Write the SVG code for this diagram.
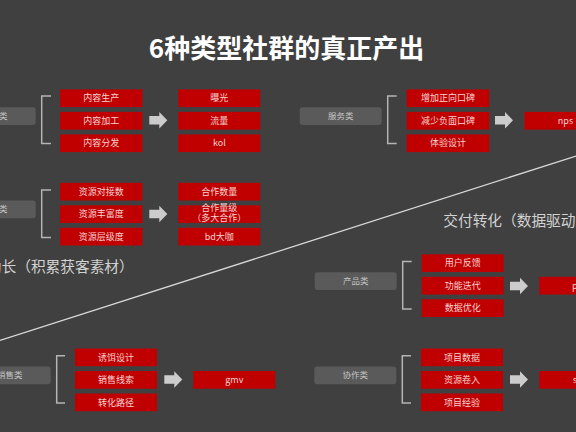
<svg xmlns="http://www.w3.org/2000/svg" width="576" height="432" viewBox="0 0 576 432">
<style>
text{font-family:"Noto Sans CJK SC","Liberation Sans",sans-serif}
.lb{fill:#5a5a5a}
.lt{fill:#c4c4c4;font-size:8.5px;text-anchor:middle}
.rd{fill:#c00000}
.rt{fill:#f6d2d2;font-size:9px;text-anchor:middle}
.br{fill:none;stroke:#b4b4b4;stroke-width:1.5}
.arr{fill:#cccccc}
.big{fill:#d2d2d2;font-size:14.7px}
</style>
<defs><path id="ar" d="M0,-4.3H10V-8.3L18,0L10,8.3V4.3H0Z"/></defs>
<rect width="576" height="432" fill="#404040"/>
<text x="286.5" y="58" fill="#ffffff" font-size="26" font-weight="bold" text-anchor="middle">6种类型社群的真正产出</text>
<text class="big" x="-13.2" y="272">助长（积累获客素材）</text>
<text class="big" x="443.3" y="226">交付转化（数据驱动</text>

<g id="connectors">
<line x1="0" y1="340.5" x2="576" y2="156" stroke="#d8d8d8" stroke-width="1.3"/>
<path class="br" d="M51,96H41.7V143.4H51"/>
<path class="br" d="M396.7,96H387.7V143.4H396.7"/>
<path class="br" d="M51,190H41.7V237.5H51"/>
<path class="br" d="M411.7,261.5H402.7V309H411.7"/>
<path class="br" d="M65,355.7H56.7V403H65"/>
<path class="br" d="M411,355.7H402.3V403H411"/>
<use href="#ar" class="arr" transform="translate(149.3,120.3)"/>
<use href="#ar" class="arr" transform="translate(495,120.3)"/>
<use href="#ar" class="arr" transform="translate(149.3,214)"/>
<use href="#ar" class="arr" transform="translate(510,286)"/>
<use href="#ar" class="arr" transform="translate(164.3,379.5)"/>
<use href="#ar" class="arr" transform="translate(510,379.5)"/>
</g>

<g id="neirong">
<rect class="lb" x="-46.3" y="107.2" width="82" height="17.7" rx="3"/>
<text class="lt" x="-5.3" y="119">内容类</text>
<rect class="rd" x="60" y="89.4" width="82.5" height="17.7"/>
<text class="rt" x="101.25" y="101.45">内容生产</text>
<rect class="rd" x="60" y="111.9" width="82.5" height="17.7"/>
<text class="rt" x="101.25" y="123.95">内容加工</text>
<rect class="rd" x="60" y="134.4" width="82.5" height="17.7"/>
<text class="rt" x="101.25" y="146.45">内容分发</text>
<rect class="rd" x="178.3" y="89.4" width="82" height="17.7"/>
<text class="rt" x="219.3" y="101.45">曝光</text>
<rect class="rd" x="178.3" y="111.9" width="82" height="17.7"/>
<text class="rt" x="219.3" y="123.95">流量</text>
<rect class="rd" x="178.3" y="134.4" width="82" height="17.7"/>
<text class="rt" x="219.3" y="146.45">kol</text>
</g>

<g id="fuwu">
<rect class="lb" x="299.7" y="107.2" width="82" height="17.7" rx="3"/>
<text class="lt" x="340.7" y="119">服务类</text>
<rect class="rd" x="406.7" y="89.4" width="82.5" height="17.7"/>
<text class="rt" x="447.95" y="101.45">增加正向口碑</text>
<rect class="rd" x="406.7" y="111.9" width="82.5" height="17.7"/>
<text class="rt" x="447.95" y="123.95">减少负面口碑</text>
<rect class="rd" x="406.7" y="134.4" width="82.5" height="17.7"/>
<text class="rt" x="447.95" y="146.45">体验设计</text>
<rect class="rd" x="524.5" y="111.9" width="82" height="17.7"/>
<text class="rt" x="565.5" y="123.95">nps</text>
</g>

<g id="ziyuan">
<rect class="lb" x="-46.3" y="200.6" width="82" height="17.7" rx="3"/>
<text class="lt" x="-5.3" y="212.4">资源类</text>
<rect class="rd" x="60" y="182.8" width="82.5" height="17.7"/>
<text class="rt" x="101.25" y="194.85">资源对接数</text>
<rect class="rd" x="60" y="205.3" width="82.5" height="17.7"/>
<text class="rt" x="101.25" y="217.35">资源丰富度</text>
<rect class="rd" x="60" y="227.8" width="82.5" height="17.7"/>
<text class="rt" x="101.25" y="239.85">资源层级度</text>
<rect class="rd" x="178.3" y="182.8" width="82" height="17.7"/>
<text class="rt" x="219.3" y="194.85">合作数量</text>
<rect class="rd" x="178.3" y="205.3" width="82" height="17.7"/>
<text class="rt" x="219.3" y="211" font-size="7.5">合作量级</text>
<text class="rt" x="219.3" y="220.8" font-size="7.5">（多大合作）</text>
<rect class="rd" x="178.3" y="227.8" width="82" height="17.7"/>
<text class="rt" x="219.3" y="239.85">bd大咖</text>
</g>

<g id="chanpin">
<rect class="lb" x="314.7" y="272.3" width="82" height="17.7" rx="3"/>
<text class="lt" x="355.7" y="284.1">产品类</text>
<rect class="rd" x="421.7" y="254.3" width="82" height="17.7"/>
<text class="rt" x="462.7" y="266.35">用户反馈</text>
<rect class="rd" x="421.7" y="276.8" width="82" height="17.7"/>
<text class="rt" x="462.7" y="288.85">功能迭代</text>
<rect class="rd" x="421.7" y="299.3" width="82" height="17.7"/>
<text class="rt" x="462.7" y="311.35">数据优化</text>
<rect class="rd" x="539.3" y="276.8" width="82" height="17.7"/>
<text class="rt" x="580.3" y="288.85">pmf</text>
</g>

<g id="xiaoshou">
<rect class="lb" x="-31.3" y="366.5" width="82" height="17.7" rx="3"/>
<text class="lt" x="9.7" y="378.3">销售类</text>
<rect class="rd" x="75" y="348.5" width="82" height="17.7"/>
<text class="rt" x="116" y="360.55">诱饵设计</text>
<rect class="rd" x="75" y="371" width="82" height="17.7"/>
<text class="rt" x="116" y="383.05">销售线索</text>
<rect class="rd" x="75" y="393.5" width="82" height="17.7"/>
<text class="rt" x="116" y="405.55">转化路径</text>
<rect class="rd" x="193.3" y="371" width="82" height="17.7"/>
<text class="rt" x="234.3" y="383.05">gmv</text>
</g>

<g id="xiezuo">
<rect class="lb" x="314.3" y="366.5" width="82" height="17.7" rx="3"/>
<text class="lt" x="355.3" y="378.3">协作类</text>
<rect class="rd" x="421" y="348.5" width="82" height="17.7"/>
<text class="rt" x="462" y="360.55">项目数据</text>
<rect class="rd" x="421" y="371" width="82" height="17.7"/>
<text class="rt" x="462" y="383.05">资源卷入</text>
<rect class="rd" x="421" y="393.5" width="82" height="17.7"/>
<text class="rt" x="462" y="405.55">项目经验</text>
<rect class="rd" x="539.3" y="371" width="82" height="17.7"/>
<text class="rt" x="580.3" y="383.05">sop</text>
</g>
</svg>
